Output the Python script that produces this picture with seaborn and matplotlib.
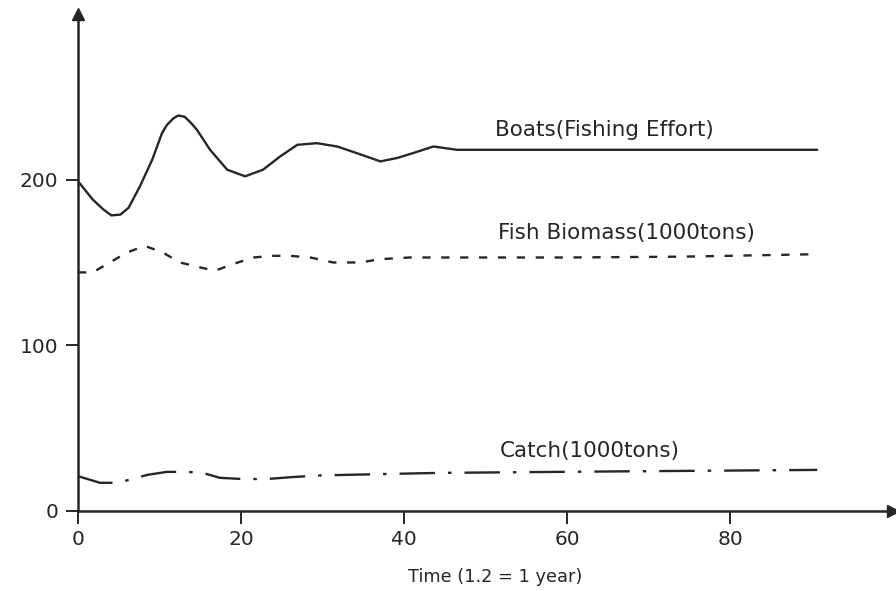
import matplotlib
matplotlib.use("Agg")
import matplotlib.pyplot as plt
import seaborn as sns
import pandas as pd

# Boats (Fishing Effort)
boats_t = [0, 1.8, 3.1, 4.1, 5.2, 6.2, 7.6, 9.1, 10.3, 10.9, 11.7, 12.3, 13.1,
           13.9, 14.6, 16.2, 18.3, 20.5, 22.7, 24.8, 26.9, 29.3, 31.8, 34.2,
           37.1, 39.1, 41.1, 43.6, 46.5, 60, 75, 90.7]
boats_v = [199, 188, 182, 178.4, 178.9, 183, 196, 212, 228, 233, 237, 238.7, 237.9,
           234, 230, 218, 206, 202, 206, 214, 221, 222, 220, 216,
           211, 213, 216, 220, 218, 218, 218, 218]

# Fish Biomass (1000 tons)
fish_t = [0, 1.8, 3.9, 6.0, 8.2, 10.4, 12.5, 15.0, 16.8, 19.0, 21.5, 23.9, 26.0,
          28.5, 31.3, 34.6, 37.1, 40.7, 46.5, 60, 74.2, 90.7]
fish_v = [144, 144, 150, 156, 160, 156, 150, 147, 145, 149, 153, 154, 154,
          153, 150, 150, 152, 153, 153, 153, 153.5, 155]

# Catch (1000 tons)
catch_t = [0, 2.7, 4.8, 6.7, 8.5, 10.9, 13.4, 15.3, 17.4, 20.2, 23.2, 26.4,
           30, 44.4, 64, 90.7]
catch_v = [21, 17, 17, 19.3, 21.8, 23.6, 23.6, 23, 20, 19.3, 19.3, 20.5,
           21.5, 23, 23.8, 24.8]

x_ticks = [0, 20, 40, 60, 80]
y_ticks = [0, 100, 200]

labels = {
    "Boats(Fishing Effort)": (51.2, 230),
    "Fish Biomass(1000tons)": (51.5, 168),
    "Catch(1000tons)": (51.8, 36),
}

sns.set_theme(style="white")
plt.rcParams["font.family"] = ["DejaVu Sans"]

ink = "#262626"
fig = plt.figure(figsize=(8.96, 5.91), dpi=100)
ax = fig.add_axes([0.0871, 0.1354, 0.9096, 0.841])

df_b = pd.DataFrame({"t": boats_t, "v": boats_v})
df_f = pd.DataFrame({"t": fish_t, "v": fish_v})
df_c = pd.DataFrame({"t": catch_t, "v": catch_v})

sns.lineplot(data=df_b, x="t", y="v", ax=ax, color=ink, linewidth=1.7,
             solid_joinstyle="round")
sns.lineplot(data=df_f, x="t", y="v", ax=ax, color=ink, linewidth=1.7,
             linestyle=(0, (3.5, 4.5)))
sns.lineplot(data=df_c, x="t", y="v", ax=ax, color=ink, linewidth=1.7,
             linestyle=(0, (15, 5.5, 1.5, 5.5)))

for txt, (x, y) in labels.items():
    ax.text(x, y, txt, fontsize=15.5, color=ink, va="center", ha="left")

ax.set_xlim(0, 100)
ax.set_ylim(0, 300)
ax.set_xticks(x_ticks)
ax.set_yticks(y_ticks)
ax.tick_params(axis="both", direction="out", length=9, width=1.4, colors=ink,
               labelsize=14.5, pad=5, bottom=True, left=True)
ax.set_xlabel("Time (1.2 = 1 year)", fontsize=12.8, color=ink)
ax.xaxis.set_label_coords(0.512, -0.115)
ax.set_ylabel("")

for side in ["top", "right"]:
    ax.spines[side].set_visible(False)
for side in ["left", "bottom"]:
    ax.spines[side].set_color(ink)
    ax.spines[side].set_linewidth(1.8)

# axis arrows
ax.plot(1, 0, ">", color=ink, markersize=8, transform=ax.transAxes, clip_on=False)
ax.plot(0, 1, "^", color=ink, markersize=8, transform=ax.transAxes, clip_on=False)

fig.savefig("out.png", dpi=100)
